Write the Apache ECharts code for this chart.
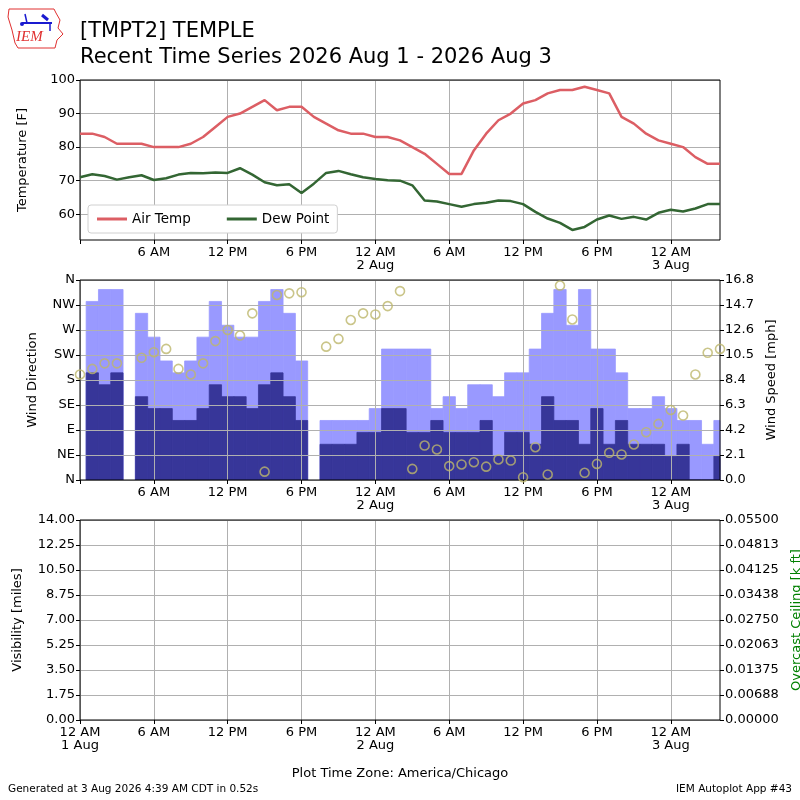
<!DOCTYPE html>
<html>
<head>
<meta charset="utf-8">
<script src="https://cdn.jsdelivr.net/npm/echarts@6/dist/echarts.min.js"></script>
<style>
  html, body { margin: 0; padding: 0; background: #fff; }
  #chart { width: 800px; height: 800px; }
</style>
</head>
<body>
<div id="chart"></div>
<script>
// hours since 12 AM 1 Aug
const hours = [0,1,2,3,4,5,6,7,8,9,10,11,12,13,14,15,16,17,18,19,20,21,22,23,24,25,26,
  27,28,29,30,31,32,33,34,35,36,37,38,39,40,41,42,43,44,45,46,47,48,49,50,51,52];

const airTemp = [84,84,83,81,81,81,80,80,80,81,83,86,89,90,92,94,91,92,92,89,87,85,84,84,83,83,82,
  80,78,75,72,72,79,84,88,90,93,94,96,97,97,98,97,96,89,87,84,82,81,80,77,75,75];

const dewPoint = [71.0,71.9,71.4,70.3,71.0,71.6,70.2,70.7,71.8,72.3,72.2,72.4,72.3,73.7,71.8,69.5,68.6,68.9,66.3,69.1,72.3,72.9,71.9,71.0,70.5,70.1,70.0,
  68.6,64.1,63.8,63.0,62.2,63.0,63.4,64.1,63.9,63.0,60.7,58.7,57.4,55.3,56.2,58.4,59.6,58.6,59.2,58.4,60.4,61.3,60.8,61.7,63.0,63.0];

const windDir = [190,200,210,210,null,220,230,236,200,190,
  210,250,270,260,300,15,333,336,338,null,
  240,254,288,300,298,313,340,20,62,55,
  25,28,32,24,37,35,5,59,10,350,
  289,13,29,49,46,64,86,101,126,116,
  190,229,236];

const windSpeed = [null,9,8,9,null,7,6,6,5,5,6,8,7,7,6,8,9,7,5,null,
  3,3,3,4,4,6,6,4,4,5,4,4,4,5,2,4,4,3,7,5,5,3,6,3,5,3,3,3,2,3,0,0,2];

const windGust = [null,15,16,16,null,14,12,10,9,10,12,15,13,12,12,15,16,14,10,null,
  5,5,5,5,6,11,11,11,11,6,7,6,8,8,7,9,9,11,14,16,13,16,11,11,9,6,6,7,6,5,5,3,5];

const tickHours = [0,6,12,18,24,30,36,42,48];
const tickLabels = ['12 AM\n1 Aug','6 AM','12 PM','6 PM','12 AM\n2 Aug','6 AM','12 PM','6 PM','12 AM\n3 Aug'];
const tempTicks = [60,70,80,90,100];
const dirLabels = ['N','NE','E','SE','S','SW','W','NW','N'];

const FONT = 'DejaVu Sans';
const gridColor = '#b0b0b0';

const pairs = (vals) => hours.map((h, i) => [h, vals[i]]).filter(p => p[1] !== null);

function barItem(color) {
  return function (params, api) {
    const x = api.value(0), v = api.value(1);
    const p0 = api.coord([x - 0.5, v]);
    const p1 = api.coord([x + 0.5, 0]);
    const rect = echarts.graphic.clipRectByRect(
      { x: p0[0], y: p0[1], width: p1[0] - p0[0], height: p1[1] - p0[1] },
      params.coordSys
    );
    if (!rect) return;
    return { type: 'rect', shape: rect, style: { fill: color, stroke: color, lineWidth: 0.8 } };
  };
}

function makeX(gridIndex, showFirst) {
  return {
    type: 'value', gridIndex: gridIndex, min: 0, max: 52, z: 3,
    axisLine: { show: false },
    axisTick: { show: true, length: 4, customValues: tickHours, lineStyle: { color: '#000' } },
    axisLabel: {
      customValues: tickHours, fontFamily: FONT, fontSize: 13, color: '#000', margin: 6,
      formatter: v => {
        const i = tickHours.indexOf(v);
        if (i < 0 || (i === 0 && !showFirst)) return '';
        return tickLabels[i];
      }
    },
    splitLine: { show: true, lineStyle: { color: gridColor, width: 1 } }
  };
}

function yBase(extra) {
  return Object.assign({
    z: 3,
    axisLine: { show: false },
    axisTick: { show: true, length: 4, lineStyle: { color: '#000' } },
    axisLabel: { fontFamily: FONT, fontSize: 13, color: '#000', margin: 5 },
    splitLine: { show: true, lineStyle: { color: gridColor, width: 1 } },
    nameLocation: 'middle',
    nameTextStyle: { fontFamily: FONT, fontSize: 13, color: '#000' }
  }, extra);
}

const gridBase = { left: 80, right: 80, show: true, borderColor: '#000', borderWidth: 1, z: 4,
  backgroundColor: 'transparent', containLabel: false, outerBoundsMode: 'none' };

const chart = echarts.init(document.getElementById('chart'), null, { renderer: 'canvas' });

const option = {
  animation: false,
  backgroundColor: '#fff',
  title: {
    text: '[TMPT2] TEMPLE\nRecent Time Series 2026 Aug 1 - 2026 Aug 3',
    left: 75, top: 14,
    textStyle: { fontFamily: FONT, fontSize: 21, fontWeight: 'normal', color: '#000', lineHeight: 26 }
  },
  legend: {
    data: ['Air Temp', 'Dew Point'],
    left: 88, top: 205, z: 10,
    icon: 'rect', itemWidth: 30, itemHeight: 3, itemGap: 36,
    backgroundColor: '#fff', borderColor: '#d0d0d0', borderWidth: 1, borderRadius: 3,
    padding: [7, 8, 7, 9],
    textStyle: { fontFamily: FONT, fontSize: 13.5, color: '#000' }
  },
  grid: [
    Object.assign({ top: 80, height: 160 }, gridBase),
    Object.assign({ top: 280, height: 200 }, gridBase),
    Object.assign({ top: 520, height: 200 }, gridBase)
  ],
  xAxis: [makeX(0, false), makeX(1, false), makeX(2, true)],
  yAxis: [
    yBase({
      gridIndex: 0, min: 52.3, max: 100, name: 'Temperature [F]', nameGap: 51, z: 0,
      axisTick: { show: true, length: 4, customValues: tempTicks, lineStyle: { color: '#000' } },
      axisLabel: { customValues: tempTicks, fontFamily: FONT, fontSize: 13, color: '#000', margin: 5 }
    }),
    yBase({
      gridIndex: 1, min: 0, max: 360, interval: 45, name: 'Wind Direction', nameGap: 41,
      axisLabel: { fontFamily: FONT, fontSize: 13, color: '#000', margin: 5, formatter: v => dirLabels[Math.round(v / 45)] }
    }),
    yBase({
      gridIndex: 1, position: 'right', min: 0, max: 16.8, interval: 2.1, name: 'Wind Speed [mph]', nameGap: 45,
      splitLine: { show: false },
      axisLabel: { fontFamily: FONT, fontSize: 13, color: '#000', margin: 5, formatter: v => v.toFixed(1) }
    }),
    yBase({
      gridIndex: 2, min: 0, max: 14, interval: 1.75, name: 'Visibility [miles]', nameGap: 56,
      axisLabel: { fontFamily: FONT, fontSize: 13, color: '#000', margin: 5, formatter: v => v.toFixed(2) }
    }),
    yBase({
      gridIndex: 2, position: 'right', min: 0, max: 0.055, interval: 0.006875, name: 'Overcast Ceiling [k ft]', nameGap: 70,
      splitLine: { show: false },
      nameTextStyle: { fontFamily: FONT, fontSize: 13, color: '#008000' },
      axisLabel: { fontFamily: FONT, fontSize: 13, color: '#000', margin: 5, formatter: v => (v + 1e-9).toFixed(5) }
    })
  ],
  series: [
    {
      name: 'Air Temp', type: 'line', xAxisIndex: 0, yAxisIndex: 0, z: 5,
      data: pairs(airTemp), showSymbol: false, color: '#dc5e64',
      lineStyle: { width: 2.5, color: '#dc5e64' }
    },
    {
      name: 'Dew Point', type: 'line', xAxisIndex: 0, yAxisIndex: 0, z: 5,
      data: pairs(dewPoint), showSymbol: false, color: '#336633',
      lineStyle: { width: 2.5, color: '#336633' }
    },
    {
      name: 'Wind Gust', type: 'custom', xAxisIndex: 1, yAxisIndex: 2,
      data: pairs(windGust), renderItem: barItem('#9999ff'), z: 1
    },
    {
      name: 'Wind Speed', type: 'custom', xAxisIndex: 1, yAxisIndex: 2,
      data: pairs(windSpeed), renderItem: barItem('#373699'), z: 2
    },
    {
      name: 'Wind Direction', type: 'scatter', xAxisIndex: 1, yAxisIndex: 1,
      data: pairs(windDir), symbol: 'circle', symbolSize: 9, z: 6,
      itemStyle: { color: 'transparent', borderColor: '#bdb76b', borderWidth: 1.6 }
    },
    {
      name: 'Visibility', type: 'line', xAxisIndex: 2, yAxisIndex: 3, data: []
    }
  ],
  graphic: [
    // IEM logo, simplified
    {
      type: 'polygon', shape: { points: [[9,9],[54,9],[56,13],[60,20],[58,28],[63,34],[57,40],[55,48],[18,48],[15,43],[12,30],[8,17]] },
      style: { fill: 'none', stroke: '#e03030', lineWidth: 1 }
    },
    { type: 'line', shape: { x1: 22, y1: 23, x2: 52, y2: 23 }, style: { stroke: '#1a1ad0', lineWidth: 2 } },
    { type: 'line', shape: { x1: 25, y1: 14, x2: 27, y2: 23 }, style: { stroke: '#1a1ad0', lineWidth: 1.5 } },
    { type: 'line', shape: { x1: 42, y1: 15, x2: 48, y2: 20 }, style: { stroke: '#1a1ad0', lineWidth: 3 } },
    { type: 'line', shape: { x1: 50, y1: 23, x2: 50, y2: 31 }, style: { stroke: '#1a1ad0', lineWidth: 1.5 } },
    { type: 'circle', shape: { cx: 22, cy: 24, r: 2 }, style: { fill: '#1a1ad0' } },
    {
      type: 'text', left: 16, top: 30,
      style: { text: 'IEM', fill: '#e03030', font: 'italic 15px "Liberation Serif"' }
    },
    {
      type: 'text', left: 8, top: 784,
      style: { text: 'Generated at 3 Aug 2026 4:39 AM CDT in 0.52s', fill: '#000', font: '10.5px "DejaVu Sans"' }
    },
    {
      type: 'text', right: 8, top: 784,
      style: { text: 'IEM Autoplot App #43', fill: '#000', font: '10.5px "DejaVu Sans"' }
    },
    {
      type: 'text', x: 400, y: 774,
      style: { text: 'Plot Time Zone: America/Chicago', fill: '#000', font: '13px "DejaVu Sans"', align: 'center', verticalAlign: 'middle' }
    }
  ]
};

chart.setOption(option);
</script>
</body>
</html>
